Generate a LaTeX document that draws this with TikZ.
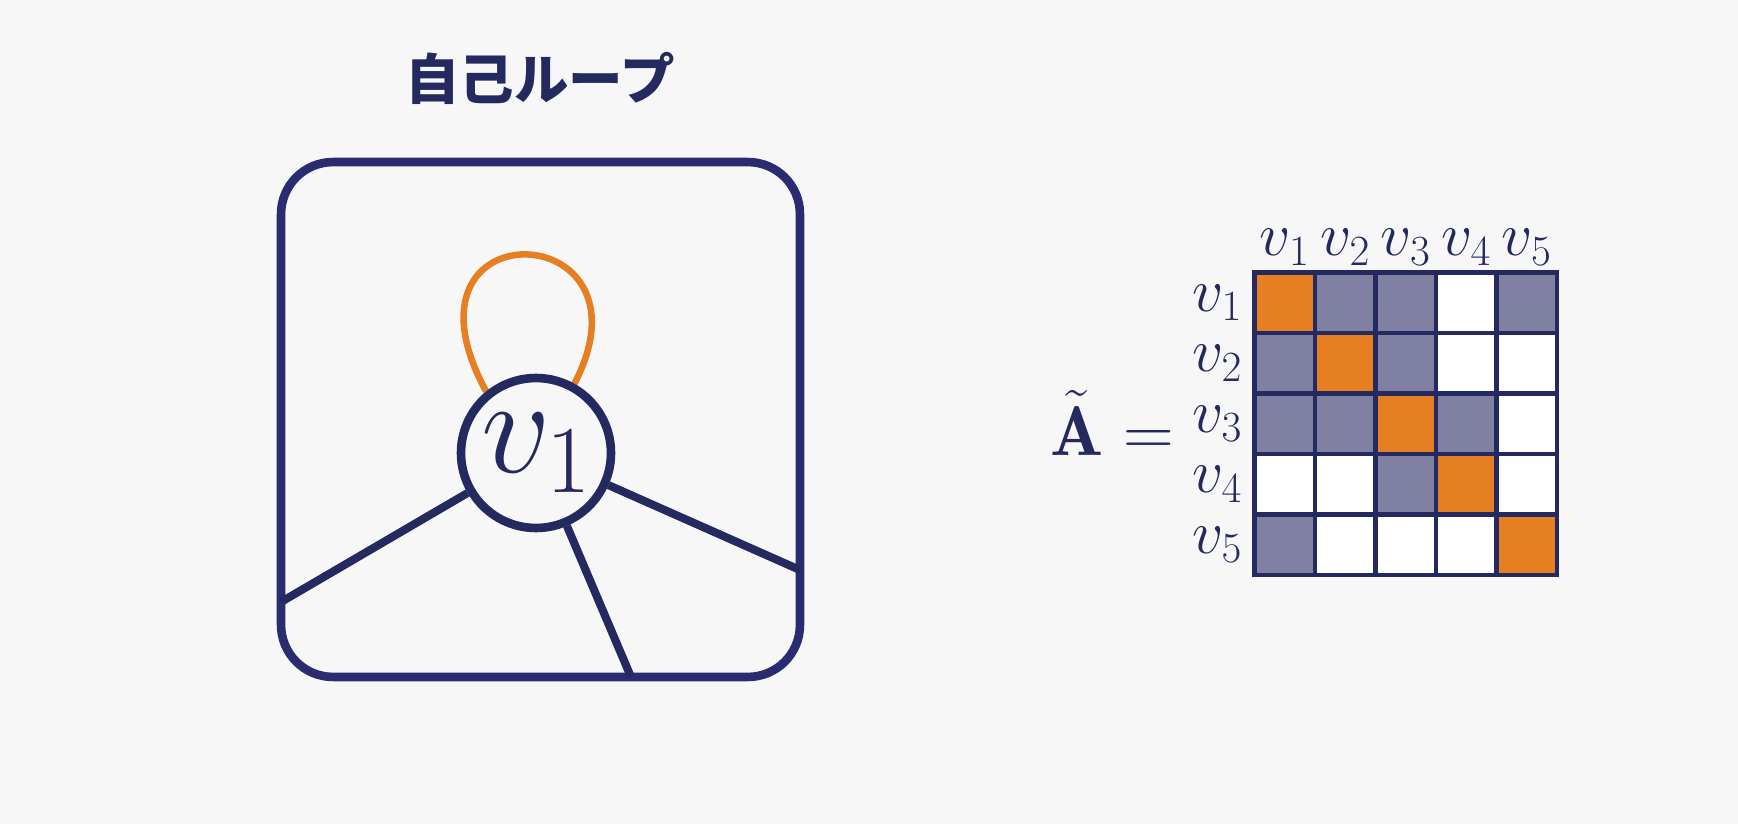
\RequirePackage{fix-cm}
\documentclass[tikz,border=0pt]{standalone}
\usepackage{fontspec}
\newfontfamily\jpfont{Noto Sans CJK JP}
\usetikzlibrary{backgrounds}
\definecolor{navy}{HTML}{24295F}
\definecolor{framenavy}{HTML}{2A2B70}
\definecolor{looporange}{HTML}{E67E22}
\definecolor{cellgray}{HTML}{7F80A2}
\definecolor{bgcol}{HTML}{F7F7F7}
\begin{document}
\begin{tikzpicture}[x=0.02cm,y=-0.02cm,
  framebox/.style={draw=framenavy,line width=4.9pt,rounded corners=1.04cm,minimum width=10.38cm,minimum height=10.3cm,inner sep=0pt},
  vnode/.style={circle,draw=navy,line width=4.9pt,fill=bgcol,minimum size=3cm,inner sep=0pt,text=navy,font=\fontsize{78}{84}\selectfont},
  edgeline/.style={draw=navy,line width=4.6pt},
  selfloop/.style={draw=looporange,line width=3.7pt},
  gridline/.style={draw=navy,line width=2.4pt,line cap=rect},
  lab/.style={text=navy,inner sep=0pt,font=\fontsize{35}{40}\selectfont},
  biglab/.style={text=navy,inner sep=0pt,font=\fontsize{40}{46}\selectfont},
  titletext/.style={text=navy,inner sep=0pt,font=\fontsize{31}{37}\selectfont\jpfont\bfseries}]
\begin{pgfonlayer}{background}
\fill[bgcol] (0,0) rectangle (1738,824);
\end{pgfonlayer}
\useasboundingbox (0,0) rectangle (1738,824);

% title
\node[titletext] (title) at (540,78) {自己ループ};

% frame and graph
\node[framebox] (frame) at (540.5,419.5) {};
\node[vnode] (v) at (536,453) {$v_1$};
\coordinate (eL) at (281,602);
\coordinate (eR) at (800,570);
\coordinate (eB) at (631,677);
\draw[edgeline] (v) -- (eL);
\draw[edgeline] (v) -- (eR);
\draw[edgeline] (v) -- (eB);
\begin{pgfonlayer}{background}
\draw[selfloop] (v.129) .. controls (385,205) and (662,215) .. (v.61);
\end{pgfonlayer}

% matrix
\def\mx{1254.5}\def\my{272.5}\def\cw{60.5}
\fill[white] (\mx,\my) rectangle ({\mx+5*\cw},{\my+5*\cw});
\foreach \r/\c in {1/1,2/2,3/3,4/4,5/5}
  \fill[looporange] ({\mx+(\c-1)*\cw},{\my+(\r-1)*\cw}) rectangle ++(\cw,\cw);
\foreach \r/\c in {1/2,1/3,1/5,2/1,2/3,3/1,3/2,3/4,4/3,5/1}
  \fill[cellgray] ({\mx+(\c-1)*\cw},{\my+(\r-1)*\cw}) rectangle ++(\cw,\cw);
\foreach \i in {0,...,5} {
  \draw[gridline] ({\mx+\i*\cw},\my) -- ({\mx+\i*\cw},{\my+5*\cw});
  \draw[gridline] (\mx,{\my+\i*\cw}) -- ({\mx+5*\cw},{\my+\i*\cw});
}
\foreach \i in {1,...,5} {
  \node[lab,anchor=south] (col\i) at ({\mx+(\i-0.5)*\cw},{\my-7}) {$v_{\i}$};
  \node[lab,anchor=east] (row\i) at ({\mx-12},{\my+(\i-0.5)*\cw}) {$v_{\i}$};
}
\node[biglab,anchor=base west] (atilde) at (1050,455) {$\tilde{\mathbf{A}} =$};
\end{tikzpicture}
\end{document}
